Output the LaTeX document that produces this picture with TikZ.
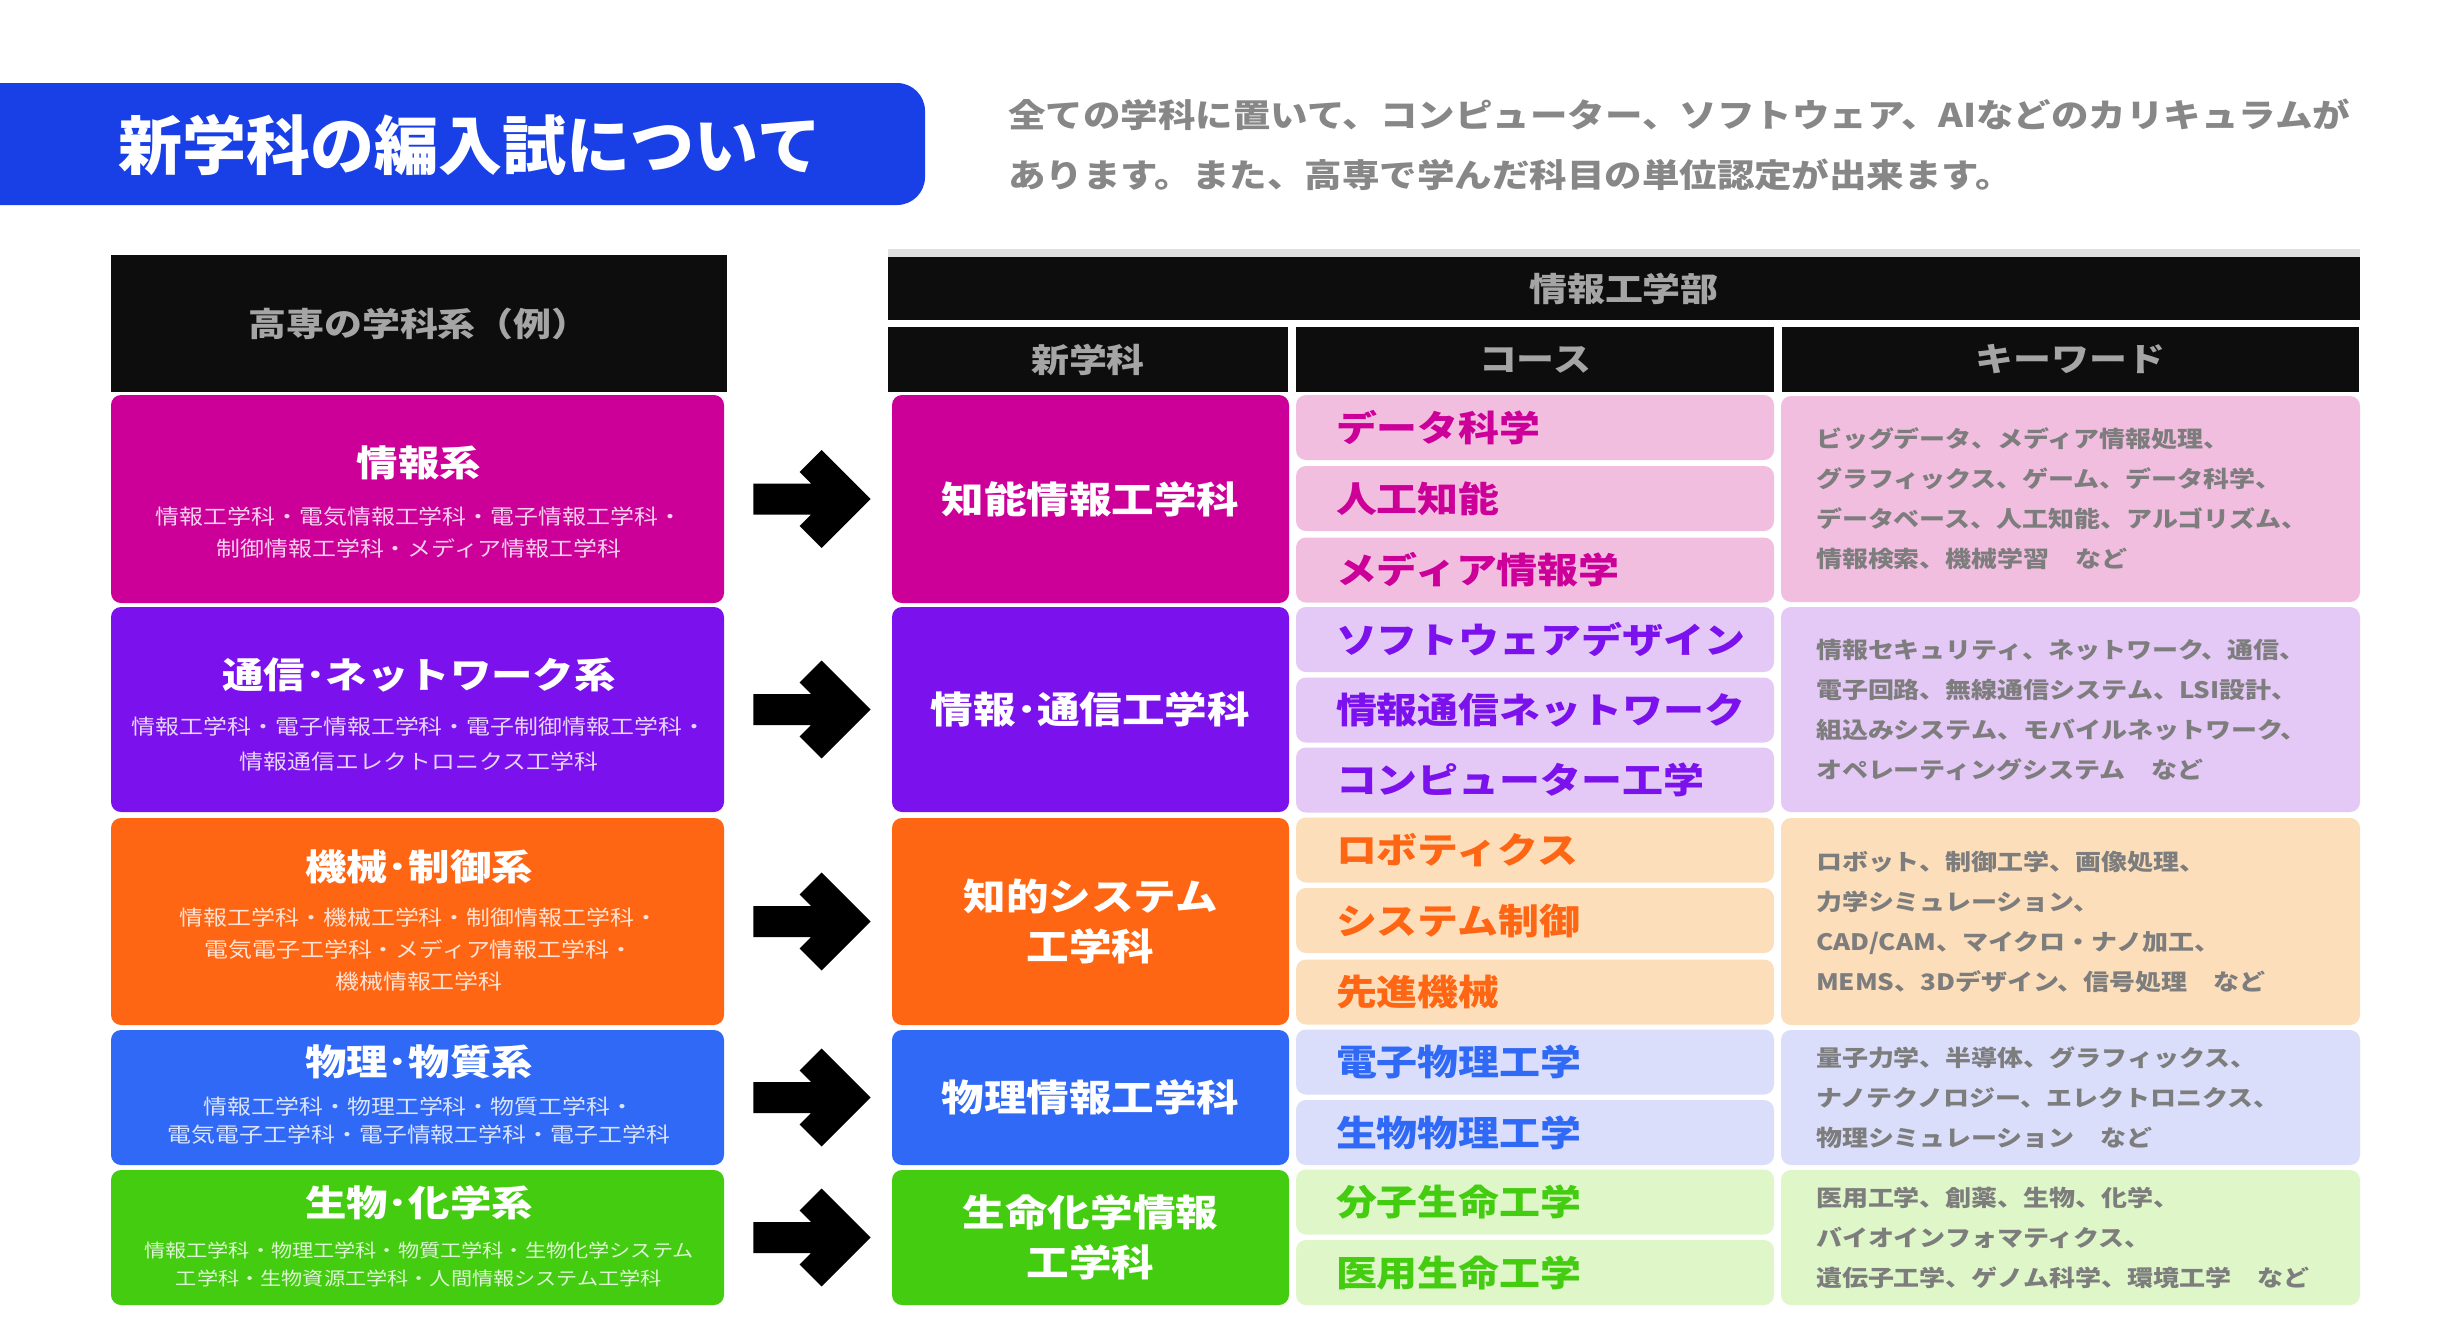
\documentclass[tikz,border=0pt]{standalone}
\usepackage{fontspec}
\setmainfont{Noto Sans CJK JP}[FakeStretch=1.15]
\newfontfamily\titlefont{Noto Sans CJK JP}
\usetikzlibrary{calc}
\definecolor{cMag}{RGB}{204,0,153}
\definecolor{cPur}{RGB}{123,17,236}
\definecolor{cOra}{RGB}{255,102,20}
\definecolor{cBlu}{RGB}{48,105,245}
\definecolor{cGre}{RGB}{68,204,17}
\definecolor{cTitle}{RGB}{24,64,230}
\definecolor{lMag}{RGB}{242,190,224}
\definecolor{lPur}{RGB}{228,200,246}
\definecolor{lOra}{RGB}{252,222,186}
\definecolor{lBlu}{RGB}{218,222,250}
\definecolor{lGre}{RGB}{222,246,200}
\definecolor{hdr}{RGB}{13,13,13}
\definecolor{hdrtext}{RGB}{165,165,165}
\definecolor{kwgray}{RGB}{125,125,125}
\definecolor{descgray}{RGB}{135,135,135}
\tikzset{
  hdrbox/.style={fill=hdr, inner sep=0pt, text=hdrtext, font=\fontsize{16.5}{20}\selectfont\bfseries},
  grpbox/.style={rounded corners=5pt, inner sep=0pt, minimum width=306.5pt},
  grphead/.style={text=white, inner sep=0pt, font=\fontsize{18}{22}\selectfont\bfseries},
  grpsub/.style={align=center, inner sep=0pt, font=\fontsize{10.4}{16}\selectfont},
  deptbox/.style={rounded corners=5pt, inner sep=0pt, minimum width=198.5pt, text=white, align=center, font=\fontsize{18.5}{25}\selectfont\bfseries},
  coursebox/.style={rounded corners=5pt, inner ysep=0pt, inner xsep=20pt, text width=199pt, minimum height=32.5pt, align=left, font=\fontsize{17.8}{20}\selectfont\bfseries},
  kwbox/.style={rounded corners=5pt, inner ysep=0pt, inner xsep=17.5pt, text width=254.5pt, align=left, text=kwgray, font=\fontsize{11.3}{20}\selectfont\bfseries},
  bigarrow/.style={draw=black, line width=15.5pt, to path={let \p1=(\tikztostart), \p2=(\tikztotarget) in
     (\x1+14.5pt,\y1) -- (\x2-26pt,\y1)
     (\x2-40.5pt,\y1+19pt) -- (\x2-21.5pt,\y1) -- (\x2-40.5pt,\y1-19pt)}},
}
\begin{document}
\begin{tikzpicture}[x=0.5pt,y=-0.5pt]
\useasboundingbox (0,0) rectangle (2441,1334);
\fill[white] (0,0) rectangle (2441,1334);

% title
\node[fill=cTitle, rounded corners=14pt, minimum width=482.5pt, minimum height=61pt, inner sep=0pt] (titlebox) at (442.5,144) {};
\node[text=white, inner sep=0pt, font=\titlefont\fontsize{32}{36}\selectfont\bfseries] (title) at (470,145) {新学科の編入試について};

% description
\node[anchor=west, align=left, inner sep=0pt, text=descgray, font=\fontsize{16.3}{30}\selectfont\bfseries] (desc) at (1008,145)
  {全ての学科に置いて、コンピューター、ソフトウェア、AIなどのカリキュラムが\\あります。また、高専で学んだ科目の単位認定が出来ます。};

% headers
\fill[black!12] (888,249) rectangle (2360,257);
\node[hdrbox, minimum width=308pt, minimum height=68.5pt] (hleft) at (419,323.5) {高専の学科系（例）};
\node[hdrbox, minimum width=736pt, minimum height=31.5pt] (htop) at (1624,288.5) {情報工学部};
\node[hdrbox, minimum width=200pt, minimum height=32.5pt] (hdept) at (1088,359.5) {新学科};
\node[hdrbox, minimum width=239pt, minimum height=32.5pt] (hcourse) at (1535,359.5) {コース};
\node[hdrbox, minimum width=288.5pt, minimum height=32.5pt] (hkw) at (2070.5,359.5) {キーワード};

% ---------- left group boxes
\node[grpbox, fill=cMag, minimum height=104pt] (l1) at (417.5,499) {};
\node[grpbox, fill=cPur, minimum height=102.5pt] (l2) at (417.5,709.5) {};
\node[grpbox, fill=cOra, minimum height=103.5pt] (l3) at (417.5,921.5) {};
\node[grpbox, fill=cBlu, minimum height=67.5pt] (l4) at (417.5,1097.5) {};
\node[grpbox, fill=cGre, minimum height=67.5pt] (l5) at (417.5,1237.5) {};

\node[grphead] (l1h) at (419,463) {情報系};
\node[grpsub, text=white!82!cMag] (l1s) at (419,532.5) {情報工学科・電気情報工学科・電子情報工学科・\\制御情報工学科・メディア情報工学科};
\node[grphead] (l2h) at (419,675) {通信･ネットワーク系};
\node[grpsub, text=white!82!cPur, font=\fontsize{10.4}{17.5}\selectfont] (l2s) at (419,744.5) {情報工学科・電子情報工学科・電子制御情報工学科・\\情報通信エレクトロニクス工学科};
\node[grphead] (l3h) at (419,867) {機械･制御系};
\node[grpsub, text=white!82!cOra] (l3s) at (419,950) {情報工学科・機械工学科・制御情報工学科・\\電気電子工学科・メディア情報工学科・\\機械情報工学科};
\node[grphead] (l4h) at (419,1062) {物理･物質系};
\node[grpsub, text=white!82!cBlu, font=\fontsize{10.4}{14}\selectfont] (l4s) at (419,1121) {情報工学科・物理工学科・物質工学科・\\電気電子工学科・電子情報工学科・電子工学科};
\node[grphead] (l5h) at (419,1203) {生物･化学系};
\node[grpsub, text=white!82!cGre, font=\fontsize{9.2}{14}\selectfont] (l5s) at (419,1264) {情報工学科・物理工学科・物質工学科・生物化学システム\\工学科・生物資源工学科・人間情報システム工学科};

% ---------- new departments
\node[deptbox, fill=cMag, minimum height=104pt] (m1) at (1090.5,499) {知能情報工学科};
\node[deptbox, fill=cPur, minimum height=102.5pt] (m2) at (1090.5,709.5) {情報･通信工学科};
\node[deptbox, fill=cOra, minimum height=103.5pt] (m3) at (1090.5,921.5) {知的システム\\工学科};
\node[deptbox, fill=cBlu, minimum height=67.5pt] (m4) at (1090.5,1097.5) {物理情報工学科};
\node[deptbox, fill=cGre, minimum height=67.5pt] (m5) at (1090.5,1237.5) {生命化学情報\\工学科};

% ---------- arrows
\draw[bigarrow] (l1.east) to (m1.west);
\draw[bigarrow] (l2.east) to (m2.west);
\draw[bigarrow] (l3.east) to (m3.west);
\draw[bigarrow] (l4.east) to (m4.west);
\draw[bigarrow] (l5.east) to (m5.west);

% ---------- courses
\node[coursebox, fill=lMag, text=cMag] (c11) at (1535,427.5) {データ科学};
\node[coursebox, fill=lMag, text=cMag] (c12) at (1535,498.5) {人工知能};
\node[coursebox, fill=lMag, text=cMag] (c13) at (1535,570) {メディア情報学};
\node[coursebox, fill=lPur, text=cPur] (c21) at (1535,639.5) {ソフトウェアデザイン};
\node[coursebox, fill=lPur, text=cPur] (c22) at (1535,710) {情報通信ネットワーク};
\node[coursebox, fill=lPur, text=cPur] (c23) at (1535,780) {コンピューター工学};
\node[coursebox, fill=lOra, text=cOra] (c31) at (1535,850) {ロボティクス};
\node[coursebox, fill=lOra, text=cOra] (c32) at (1535,920.5) {システム制御};
\node[coursebox, fill=lOra, text=cOra] (c33) at (1535,992) {先進機械};
\node[coursebox, fill=lBlu, text=cBlu] (c41) at (1535,1062) {電子物理工学};
\node[coursebox, fill=lBlu, text=cBlu] (c42) at (1535,1132.5) {生物物理工学};
\node[coursebox, fill=lGre, text=cGre] (c51) at (1535,1202) {分子生命工学};
\node[coursebox, fill=lGre, text=cGre] (c52) at (1535,1272.5) {医用生命工学};

% ---------- keywords
\node[kwbox, fill=lMag, minimum height=103pt] (k1) at (2070.5,499)
  {ビッグデータ、メディア情報処理、\\グラフィックス、ゲーム、データ科学、\\データベース、人工知能、アルゴリズム、\\情報検索、機械学習　など};
\node[kwbox, fill=lPur, minimum height=102.5pt] (k2) at (2070.5,709.5)
  {情報セキュリティ、ネットワーク、通信、\\電子回路、無線通信システム、LSI設計、\\組込みシステム、モバイルネットワーク、\\オペレーティングシステム　など};
\node[kwbox, fill=lOra, minimum height=103.5pt] (k3) at (2070.5,921.5)
  {ロボット、制御工学、画像処理、\\力学シミュレーション、\\CAD/CAM、マイクロ・ナノ加工、\\MEMS、3Dデザイン、信号処理　など};
\node[kwbox, fill=lBlu, minimum height=67.5pt] (k4) at (2070.5,1097.5)
  {量子力学、半導体、グラフィックス、\\ナノテクノロジー、エレクトロニクス、\\物理シミュレーション　など};
\node[kwbox, fill=lGre, minimum height=67.5pt] (k5) at (2070.5,1237.5)
  {医用工学、創薬、生物、化学、\\バイオインフォマティクス、\\遺伝子工学、ゲノム科学、環境工学　など};
\end{tikzpicture}
\end{document}
